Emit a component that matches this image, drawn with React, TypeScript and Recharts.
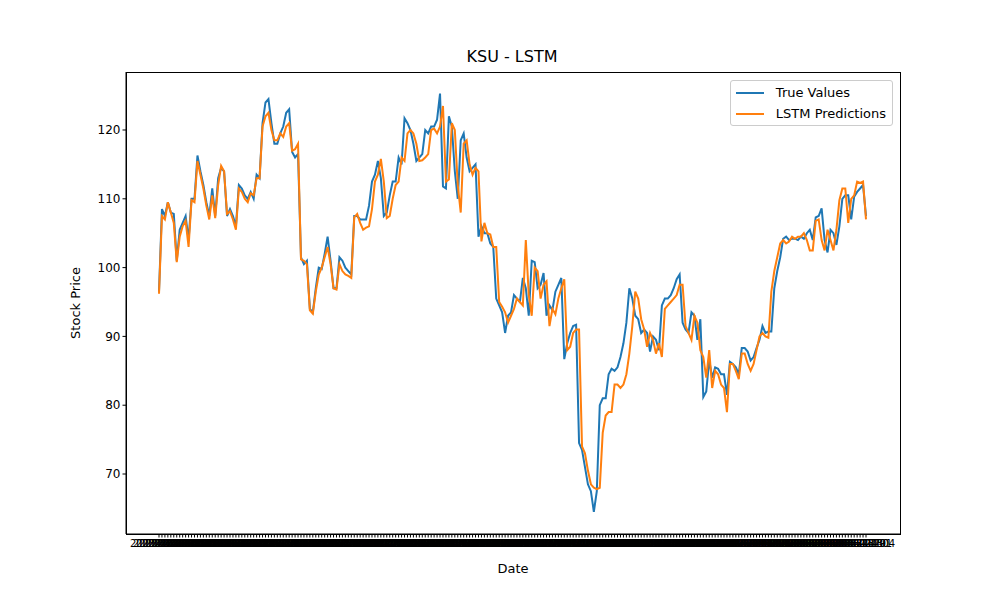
import { Line, LineChart, XAxis, YAxis } from 'recharts';

const TRUE_VALUES = [
  96.5, 108.5, 107.5, 109.5, 108, 107.8, 101, 105.5, 106.5, 107.5,
  104, 110, 110, 116.3, 114, 112, 109.5, 107.5, 111.5, 107.5,
  113, 114.5, 114, 107.5, 108.5, 107.5, 106, 112, 111.5, 110.5,
  110, 111, 110, 113.5, 113, 121, 124, 124.5, 121, 118,
  118, 119.5, 120.5, 122.5, 123, 116.8, 116, 116.5, 101.5, 100.5,
  101, 94, 93.5, 97, 100, 99.8, 102, 104.5, 101, 97,
  97, 101.5, 101, 100, 99.5, 99, 107.5, 107.5, 107, 107,
  107, 109, 112.5, 113.5, 115.5, 113, 107.5, 108, 110.5, 112.5,
  112.5, 116, 115, 121.7, 121, 120, 118, 115.5, 116, 116.5,
  120, 119.5, 120.5, 120.5, 121.5, 125.3, 111.8, 111.5, 122, 120.5,
  114, 110, 118.5, 119.5, 116, 114, 114.5, 115, 104.5, 106,
  105, 105, 103.5, 103, 95.5, 94.5, 93.5, 90.5, 93, 93.5,
  96, 95.5, 95, 98.5, 97, 93, 101, 100.8, 97, 97.5,
  99.2, 93, 94.5, 93.8, 96.5, 97.5, 98.5, 86.7, 89, 90.5,
  91.5, 91.7, 74.5, 73.5, 71, 68.5, 67.5, 64.5, 67.5, 80,
  81, 81, 84.5, 85.3, 85, 85.5, 87, 89, 92, 97,
  95.5, 93, 92.5, 90.5, 91, 90.5, 87.8, 90, 89.5, 88,
  94.5, 95.5, 95.5, 96, 97, 98.3, 99, 92, 91, 90.5,
  93.5, 93, 89.5, 92.5, 81.2, 82, 86.5, 84, 85.5, 85.3,
  84.5, 84.5, 81.5, 86.3, 86, 85.5, 84.5, 88.3, 88.3, 87.8,
  86.5, 87, 88.3, 89.5, 91.5, 90.5, 90.7, 90.7, 97, 99.5,
  101.5, 104.2, 104.5, 104, 104.2, 104.2, 104, 104.5, 104.2, 105,
  105.5, 104, 107.3, 107.5, 108.6, 104, 102.2, 105.5, 105, 103.3,
  106, 110, 110.5, 110.5, 107, 110.3, 111, 111.5, 112, 107.5,
];

const LSTM_PREDICTIONS = [
  96.2, 107.5, 107, 109.5, 108, 106.5, 100.8, 104.5, 106, 106.8,
  103, 109.8, 109.5, 115.5, 113.5, 111.5, 109, 107, 110.5, 107.2,
  112, 114.8, 114, 107.8, 108.2, 107, 105.5, 111.5, 111, 110,
  109.5, 110.8, 110.5, 113, 113, 120.5, 122, 122.5, 120, 118.5,
  118.5, 119.5, 119, 120.5, 121, 117, 117.2, 118, 101.2, 101,
  100.5, 93.8, 93.3, 96.5, 99, 100, 101.5, 103, 100.5, 97,
  96.8, 100.5, 99.5, 99, 98.8, 98.5, 107.3, 107.8, 106.5, 105.5,
  105.8, 106, 108.5, 112.5, 113.5, 115.8, 112.5, 107.2, 107.5, 110,
  112, 112.5, 116, 115.5, 119.5, 120, 119.5, 118, 115.5, 115.6,
  116, 116.5, 120, 120.2, 119.5, 120.5, 123.5, 112.5, 112.8, 121,
  120, 112, 108, 118, 118.5, 115, 113.5, 114.5, 114, 103.8,
  106.5, 105, 104.8, 103, 103, 95, 94.3, 93.5, 92, 93,
  94, 95.5, 95, 94.5, 104, 96, 93, 100, 99.5, 95.5,
  97.5, 98, 91.5, 94, 93.2, 95.5, 97, 98.3, 88, 88.5,
  90.5, 91, 91, 74, 73, 70.5, 68.5, 68, 67.8, 68,
  76, 78.5, 79, 79, 83, 83, 82.5, 83, 84.5, 87.5,
  91.5, 96.5, 95.5, 92.5, 91, 88.5, 90.5, 89.5, 87.5, 89,
  87, 94, 94.5, 95, 95.5, 96, 97.5, 97.5, 91.5, 90.5,
  89.5, 93, 92, 88, 87, 84, 88, 82.5, 85, 84.5,
  83, 82.5, 79, 86, 86, 85, 83.8, 87.5, 87.5, 86,
  85, 86, 88, 90, 90.5, 90, 89.8, 96.5, 99.5, 101.5,
  103.5, 104, 103.5, 103.8, 104.5, 104.2, 104.5, 104.5, 105, 104,
  102.5, 102.5, 106.8, 107, 104, 102.5, 105.5, 104, 102.5, 105.5,
  109.8, 111.5, 111.5, 106.5, 110, 110.5, 112.5, 112.3, 112.5, 107,
];

const Y_TICKS = [70, 80, 90, 100, 110, 120];

// trading-day labels (weekdays only) for the category axis
function tradingDays(start: string, n: number): string[] {
  const out: string[] = [];
  const d = new Date(start + 'T00:00:00Z');
  while (out.length < n) {
    const wd = d.getUTCDay();
    if (wd !== 0 && wd !== 6) out.push(d.toISOString().slice(0, 10));
    d.setUTCDate(d.getUTCDate() + 1);
  }
  return out;
}

const DATES = tradingDays('2023-01-03', TRUE_VALUES.length);
const rows = DATES.map((date, i) => ({
  date,
  actual: TRUE_VALUES[i],
  pred: LSTM_PREDICTIONS[i],
}));

const FONT = '"DejaVu Sans", sans-serif';
const BLUE = '#1f77b4';
const ORANGE = '#ff7f0e';

function LegendBox() {
  const item = (color: string, label: string) => (
    <div style={{ display: 'flex', alignItems: 'center', height: 21 }}>
      <div style={{ width: 28, height: 2, background: color, marginRight: 12 }} />
      <span>{label}</span>
    </div>
  );
  return (
    <div
      style={{
        position: 'absolute',
        right: 107,
        top: 80,
        border: '1px solid #ccc',
        borderRadius: 3,
        background: 'rgba(255,255,255,0.8)',
        padding: '1px 6px 1px 5px',
        fontSize: 13,
        color: '#000',
      }}
    >
      {item(BLUE, 'True Values')}
      {item(ORANGE, 'LSTM Predictions')}
    </div>
  );
}

export default function App() {
  return (
    <div style={{ position: 'absolute', left: 0, top: 0, width: 1000, height: 600, background: '#fff', fontFamily: FONT }}>
      <div style={{ position: 'absolute', top: 47, width: 1024, textAlign: 'center', fontSize: 16 }}>
        KSU - LSTM
      </div>
      <div style={{ position: 'absolute', top: 561, width: 1026, textAlign: 'center', fontSize: 13 }}>
        Date
      </div>
      <div
        style={{
          position: 'absolute',
          left: 75,
          top: 303,
          fontSize: 13,
          transform: 'translate(-50%, -50%) rotate(-90deg)',
          whiteSpace: 'nowrap',
        }}
      >
        Stock Price
      </div>
      <LineChart
        width={1000}
        height={600}
        data={rows}
        margin={{ top: 72, right: 100, bottom: 36, left: 66 }}
      >
        <XAxis
          dataKey="date"
          interval={0}
          padding={{ left: 33, right: 34 }}
          height={30}
          tick={{ fontSize: 10, fill: '#000' }}
          tickSize={3.5}
          stroke="#000"
        />
        <YAxis
          domain={[61.28, 128.43]}
          ticks={Y_TICKS}
          allowDataOverflow
          width={60}
          tick={{ fontSize: 12, fill: '#000' }}
          tickSize={3.5}
          stroke="#000"
        />
        <Line dataKey="actual" name="True Values" stroke={BLUE} strokeWidth={2} dot={false} isAnimationActive={false} />
        <Line dataKey="pred" name="LSTM Predictions" stroke={ORANGE} strokeWidth={2} dot={false} isAnimationActive={false} />
      </LineChart>
      {/* plot frame (top/right spines) */}
      <div
        style={{
          position: 'absolute',
          left: 126,
          top: 72,
          width: 773,
          height: 461,
          border: '1px solid #000',
          pointerEvents: 'none',
        }}
      />
      <LegendBox />
    </div>
  );
}
